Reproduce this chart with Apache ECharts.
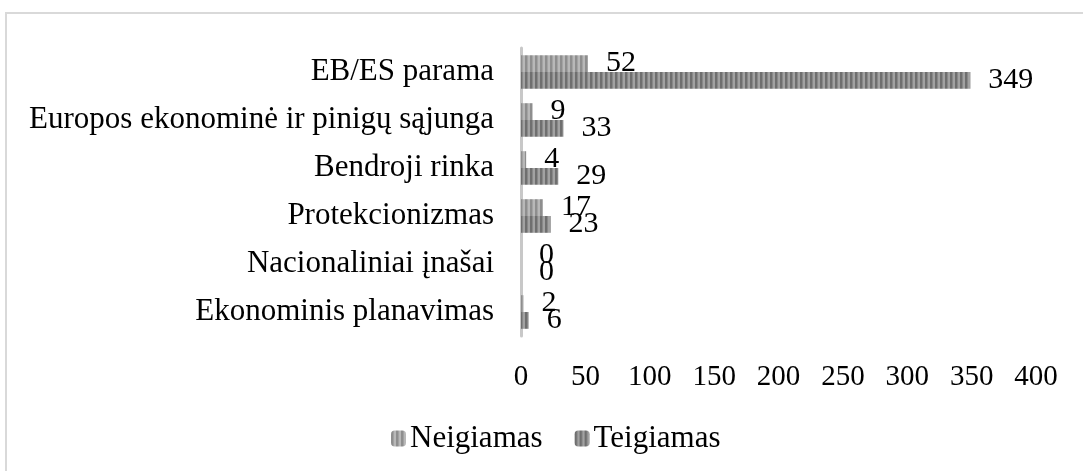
<!DOCTYPE html>
<html>
<head>
<meta charset="utf-8">
<script src="https://cdn.jsdelivr.net/npm/echarts@6/dist/echarts.min.js"></script>
<style>
  html, body { margin: 0; padding: 0; background: #fff; }
  #main { width: 1083px; height: 471px; }
</style>
</head>
<body>
<div id="main"></div>
<script>
// categories top to bottom
const categories = [
  'EB/ES parama',
  'Europos ekonominė ir pinigų sąjunga',
  'Bendroji rinka',
  'Protekcionizmas',
  'Nacionaliniai įnašai',
  'Ekonominis planavimas'
];
const neigiamas = [52, 9, 4, 17, 0, 2];
const teigiamas = [349, 33, 29, 23, 0, 6];
const xTicks = [0, 400, 50]; // min, max, interval

const FONT = '"Liberation Serif", "Times New Roman", serif';

// vertical stripe fill like the excel pattern
function stripes(dark, light) {
  const c = document.createElement('canvas');
  c.width = 5; c.height = 4;
  const ctx = c.getContext('2d');
  ctx.fillStyle = light;
  ctx.fillRect(0, 0, 5, 4);
  ctx.fillStyle = dark;
  ctx.fillRect(0, 0, 2.5, 4);
  return { image: c, repeat: 'repeat' };
}

const chart = echarts.init(document.getElementById('main'));

const label = {
  show: true,
  position: 'right',
  distance: 18,
  color: '#000',
  fontSize: 30,
  fontFamily: FONT
};

chart.setOption({
  animation: false,
  graphic: [{
    type: 'rect',
    shape: { x: 6, y: 13, width: 1200, height: 600 },
    style: { fill: 'none', stroke: '#d9d9d9', lineWidth: 2 },
    silent: true
  }],
  legend: {
    top: 418,
    left: 386,
    itemWidth: 15,
    itemHeight: 16,
    itemGap: 32,
    textStyle: { fontSize: 31, fontFamily: FONT, color: '#000', padding: [0, 0, 0, -1] },
    data: ['Neigiamas', 'Teigiamas']
  },
  grid: { left: 521, right: 47, top: 48, bottom: 135 },
  xAxis: {
    type: 'value',
    min: xTicks[0],
    max: xTicks[1],
    interval: xTicks[2],
    axisLine: { show: false },
    axisTick: { show: false },
    splitLine: { show: false },
    axisLabel: { margin: 27, fontSize: 29, fontFamily: FONT, color: '#000' }
  },
  yAxis: {
    type: 'category',
    inverse: true,
    data: categories,
    axisLine: { lineStyle: { color: '#c8c8c8', width: 3 } },
    axisTick: { show: false },
    axisLabel: { margin: 27, fontSize: 31, fontFamily: FONT, color: '#000' }
  },
  series: [
    {
      name: 'Neigiamas',
      type: 'bar',
      data: neigiamas,
      barGap: '0%',
      barCategoryGap: '30%',
      itemStyle: { color: stripes('#8e8e8e', '#b8b8b8') },
      label: label
    },
    {
      name: 'Teigiamas',
      type: 'bar',
      data: teigiamas,
      barGap: '0%',
      barCategoryGap: '30%',
      itemStyle: { color: stripes('#6f6f6f', '#a2a2a2') },
      label: label
    }
  ]
});
</script>
</body>
</html>
